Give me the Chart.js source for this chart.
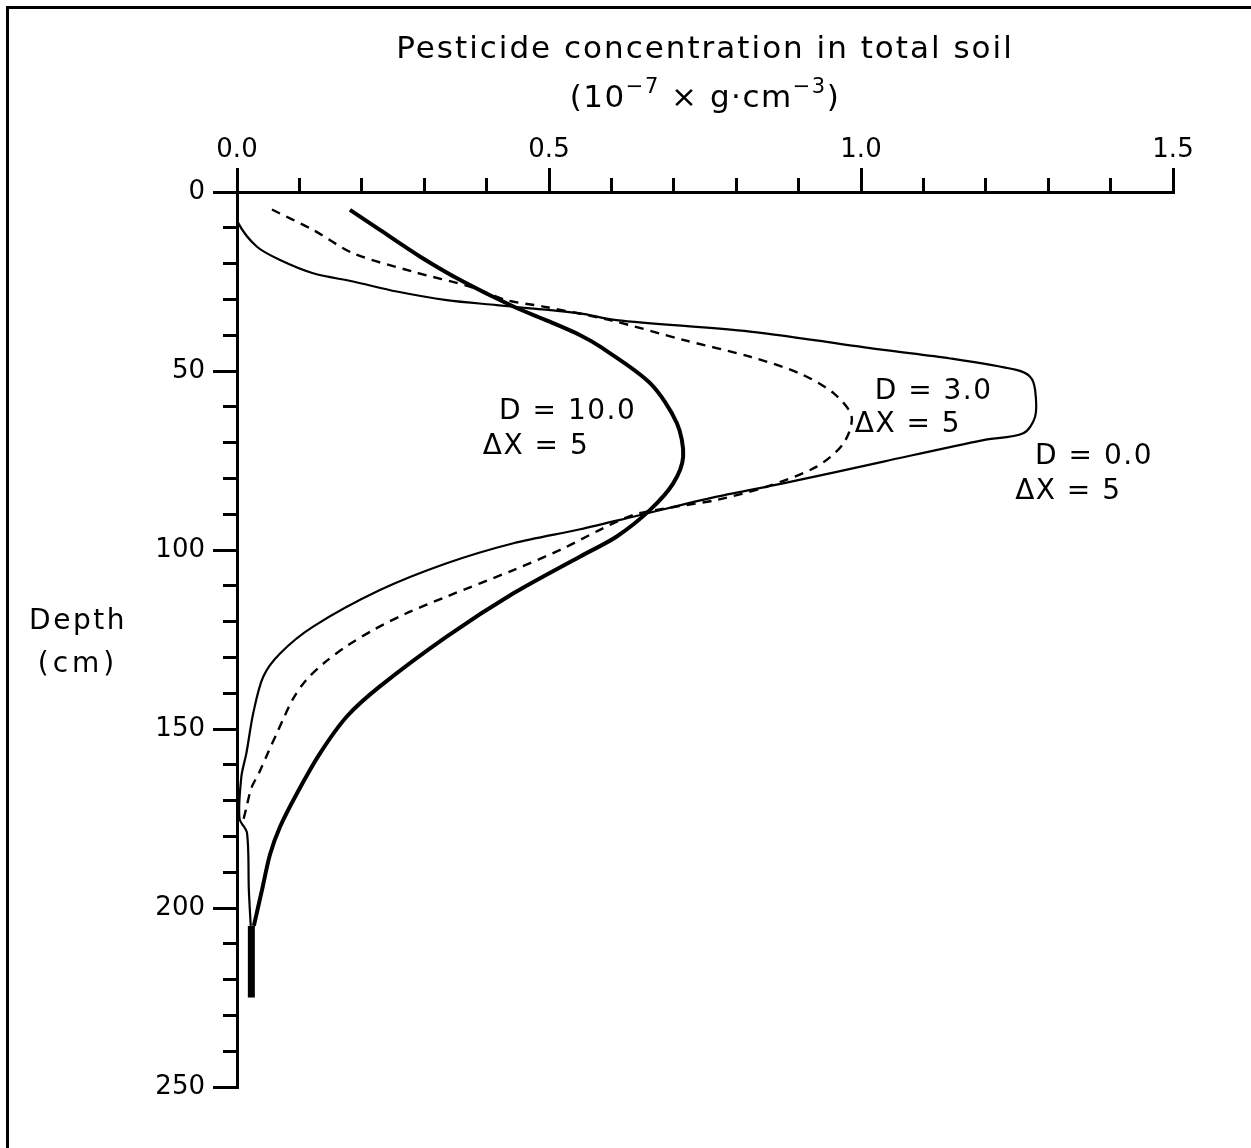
<!DOCTYPE html>
<html>
<head>
<meta charset="utf-8">
<script src="https://cdn.jsdelivr.net/npm/chart.js@4.4.0/dist/chart.umd.min.js"></script>
<style>
  html, body { margin: 0; padding: 0; background: #fff; }
  #wrap { position: relative; width: 1251px; height: 1148px; }
  #frame {
    position: absolute; left: 6px; top: 6px; width: 1245px; height: 1142px;
    border-top: 3px solid #000; border-left: 3px solid #000;
    box-sizing: border-box; pointer-events: none;
  }
</style>
</head>
<body>
<div id="wrap"><canvas id="chart"></canvas><div id="frame"></div></div>
<script>
// ---- data (concentration in 1e-7 g/cm3, depth in cm) ----
const d0Conc  = [0.000, 0.002, 0.032, 0.069, 0.122, 0.186, 0.256, 0.336, 0.416, 0.470, 0.502, 0.550, 0.608, 0.822, 1.036, 1.143, 1.249, 1.271, 1.279, 1.279, 1.260, 1.196, 1.036, 0.875, 0.769, 0.635, 0.550, 0.443, 0.336, 0.229, 0.122, 0.069, 0.042, 0.026, 0.015, 0.007, 0.004, 0.016, 0.019, 0.022];
const d0Depth = [5.0, 8.7, 15.3, 19.0, 22.7, 25.0, 27.8, 30.2, 31.6, 32.5, 33.0, 33.9, 35.8, 39.0, 44.1, 46.5, 49.7, 51.6, 55.3, 62.8, 67.4, 69.3, 75.3, 81.4, 85.1, 90.7, 94.2, 98.1, 103.7, 111.2, 121.4, 128.9, 135.4, 145.6, 156.8, 163.3, 175.0, 179.0, 195.0, 205.0];

const d3Conc  = [0.056, 0.122, 0.186, 0.283, 0.373, 0.432, 0.491, 0.598, 0.715, 0.822, 0.902, 0.956, 0.985, 0.972, 0.929, 0.849, 0.769, 0.700, 0.635, 0.580, 0.520, 0.443, 0.336, 0.270, 0.220, 0.176, 0.140, 0.110, 0.090, 0.076, 0.063, 0.050, 0.036, 0.023, 0.015, 0.008];
const d3Depth = [4.9, 10.6, 17.1, 22.3, 26.4, 30.2, 32.0, 35.8, 41.3, 46.0, 50.7, 56.2, 62.7, 70.2, 76.7, 82.3, 86.0, 88.0, 90.2, 94.5, 99.8, 105.6, 113.0, 117.8, 122.2, 126.8, 131.5, 136.5, 141.5, 146.5, 151.5, 156.5, 162.0, 166.5, 172.0, 177.0];

const d10Conc  = [0.181, 0.229, 0.293, 0.360, 0.443, 0.502, 0.550, 0.582, 0.662, 0.705, 0.715, 0.699, 0.662, 0.608, 0.550, 0.443, 0.336, 0.229, 0.176, 0.133, 0.096, 0.069, 0.053, 0.040, 0.027];
const d10Depth = [5.0, 10.6, 18.0, 24.8, 32.0, 36.3, 40.0, 43.2, 53.4, 64.6, 73.9, 81.4, 88.8, 96.3, 101.8, 112.1, 124.2, 138.1, 146.5, 156.8, 168.0, 177.3, 185.0, 195.0, 205.0];

const d10TailConc  = [0.023, 0.023];
const d10TailDepth = [205.0, 225.0];

const xMajorTicks = [0.0, 0.5, 1.0, 1.5];
const yMajorTicks = [0, 50, 100, 150, 200, 250];

const titleLine1 = 'Pesticide concentration in total soil';
// second title line as runs: [text, isSuperscript]
const titleLine2 = [['(10', false], ['\u22127', true], [' \u00D7 g\u00B7cm', false], ['\u22123', true], [')', false]];
const yTitleLines = ['Depth', '(cm)'];

const curveLabels = [
  { text: 'D = 10.0', x: 0.420, y: 61.5 },
  { text: '\u0394X = 5',  x: 0.394, y: 71.2 },
  { text: 'D = 3.0',  x: 1.022, y: 55.9 },
  { text: '\u0394X = 5',  x: 0.990, y: 65.1 },
  { text: 'D = 0.0',  x: 1.279, y: 74.0 },
  { text: '\u0394X = 5',  x: 1.247, y: 83.8 }
];

const FONT = '"DejaVu Sans", sans-serif';

function toPoints(xs, ys) {
  return xs.map((x, i) => ({ x: x, y: ys[i] }));
}

/** 画带上标的一行文字（居中） */
function drawRuns(ctx, runs, cx, cy, size) {
  const fontFor = sup => (sup ? Math.round(size * 0.68) : size) + 'px ' + FONT;
  let total = 0;
  runs.forEach(([t, sup]) => { ctx.font = fontFor(sup); total += ctx.measureText(t).width; });
  let x = cx - total / 2;
  ctx.textAlign = 'left';
  runs.forEach(([t, sup]) => {
    ctx.font = fontFor(sup);
    ctx.fillText(t, x, sup ? cy - size * 0.38 : cy);
    x += ctx.measureText(t).width;
  });
}

/** 标题、纵轴标题和曲线旁的文字 */
const textPlugin = {
  id: 'curveText',
  afterDraw(chart) {
    const ctx = chart.ctx;
    const xs = chart.scales.x, ys = chart.scales.y;
    const area = chart.chartArea;
    ctx.save();
    ctx.fillStyle = '#000';
    ctx.textBaseline = 'middle';

    // top title
    const cx = (area.left + area.right) / 2;
    ctx.textAlign = 'center';
    ctx.font = '31px ' + FONT;
    ctx.letterSpacing = '2px';
    ctx.fillText(titleLine1, cx, 50);
    ctx.letterSpacing = '1.5px';
    drawRuns(ctx, titleLine2, cx, 99, 31);

    // depth label
    ctx.textAlign = 'center';
    ctx.font = '28px ' + FONT;
    ctx.letterSpacing = '2.5px';
    ctx.fillText(yTitleLines[0], 78, ys.getPixelForValue(120));
    ctx.letterSpacing = '4px';
    ctx.fillText(yTitleLines[1], 78, ys.getPixelForValue(132));

    // curve labels
    ctx.textAlign = 'left';
    ctx.font = '28px ' + FONT;
    ctx.letterSpacing = '1.5px';
    curveLabels.forEach(l => {
      ctx.fillText(l.text, xs.getPixelForValue(l.x), ys.getPixelForValue(l.y));
    });
    ctx.restore();
  }
};

const tickGrid = (len) => ({
  display: true,
  drawOnChartArea: false,
  drawTicks: true,
  tickLength: len,
  tickWidth: 3,
  tickColor: '#000',
  color: '#000',
  lineWidth: 3
});

new Chart(document.getElementById('chart'), {
  type: 'scatter',
  data: {
    datasets: [
      {
        label: 'D = 0.0',
        data: toPoints(d0Conc, d0Depth),
        showLine: true, borderColor: '#000', borderWidth: 2.2,
        pointRadius: 0, tension: 0.3
      },
      {
        label: 'D = 3.0',
        data: toPoints(d3Conc, d3Depth),
        showLine: true, borderColor: '#000', borderWidth: 2.4, borderDash: [9, 7],
        pointRadius: 0, tension: 0.3
      },
      {
        label: 'D = 10.0',
        data: toPoints(d10Conc, d10Depth),
        showLine: true, borderColor: '#000', borderWidth: 4,
        pointRadius: 0, tension: 0.3
      },
      {
        label: 'D = 10.0 tail',
        data: toPoints(d10TailConc, d10TailDepth),
        showLine: true, borderColor: '#000', borderWidth: 7,
        pointRadius: 0, tension: 0
      }
    ]
  },
  options: {
    responsive: true,
    maintainAspectRatio: false,
    animation: false,
    layout: { padding: { left: 0, top: 0, right: 78, bottom: 61 } },
    plugins: { legend: { display: false }, tooltip: { enabled: false } },
    scales: {
      // minor ticks (no labels, zero size so they sit on the plot edge)
      x: {
        type: 'linear', position: 'top', min: 0, max: 1.5, weight: 0,
        grid: tickGrid(14),
        border: { display: true, color: '#000', width: 3 },
        ticks: { display: false, stepSize: 0.1 },
        afterFit(s) { s.height = 0; }
      },
      y: {
        type: 'linear', position: 'left', reverse: true, min: 0, max: 250, weight: 0,
        grid: tickGrid(14),
        border: { display: true, color: '#000', width: 3 },
        ticks: { display: false, stepSize: 10 },
        afterFit(s) { s.width = 0; }
      },
      // major ticks with labels
      xMajor: {
        type: 'linear', position: 'top', min: 0, max: 1.5, weight: 1,
        grid: tickGrid(24),
        border: { display: true, color: '#000', width: 3 },
        afterBuildTicks(s) { s.ticks = xMajorTicks.map(v => ({ value: v })); },
        ticks: {
          color: '#000', padding: 2, maxRotation: 0, autoSkip: false,
          font: { family: FONT, size: 26 },
          callback: v => Number(v).toFixed(1)
        },
        afterFit(s) { s.height = 192; }
      },
      yMajor: {
        type: 'linear', position: 'left', reverse: true, min: 0, max: 250, weight: 1,
        grid: tickGrid(24),
        border: { display: true, color: '#000', width: 3 },
        afterBuildTicks(s) { s.ticks = yMajorTicks.map(v => ({ value: v })); },
        ticks: {
          color: '#000', padding: 8, autoSkip: false,
          font: { family: FONT, size: 26 },
          callback: v => String(v)
        },
        afterFit(s) { s.width = 237; }
      }
    }
  },
  plugins: [textPlugin]
});
</script>
</body>
</html>
